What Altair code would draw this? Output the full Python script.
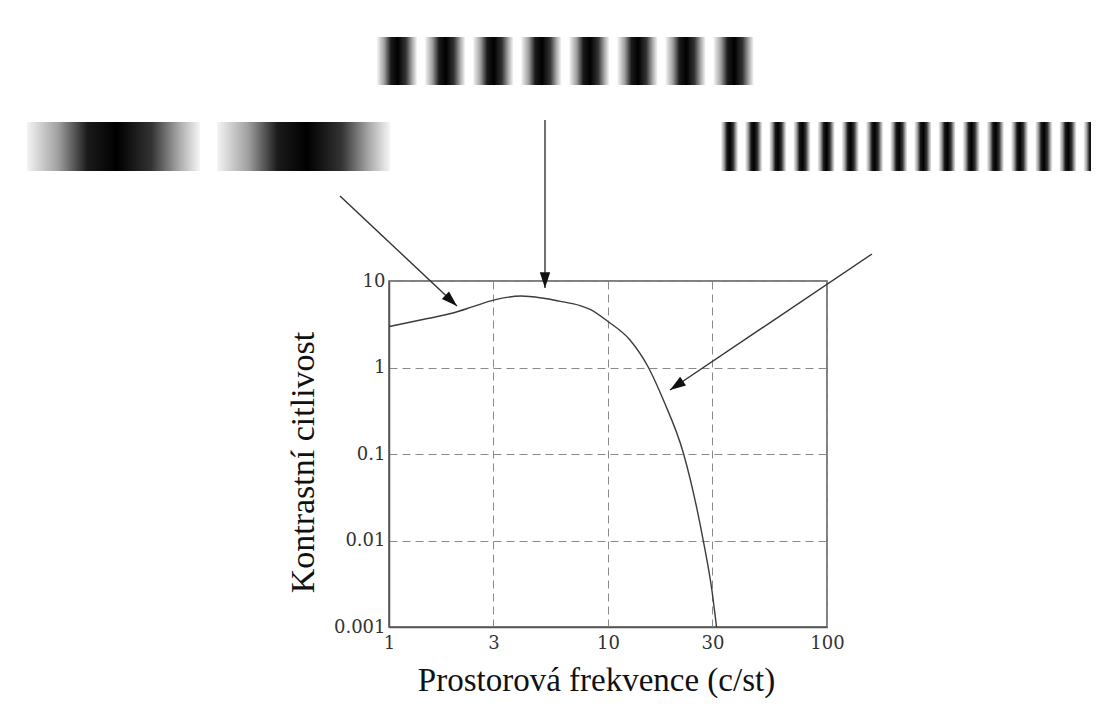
import altair as alt
import pandas as pd

# Contrast sensitivity curve
freq = [1, 1.5, 1.96, 2.42, 3.0, 4.0, 5.0, 6.0, 7.45, 8.28, 10, 12.6, 15.3, 17.9, 22.1, 27.2, 29.8, 31.3]
sens = [2.97, 3.68, 4.27, 5.05, 6.0, 6.7, 6.35, 5.85, 5.2, 4.7, 3.4, 2.08, 1.0, 0.42, 0.102, 0.0101, 0.00268, 0.001]

x_ticks = [1, 3, 10, 30, 100]
y_ticks = [0.001, 0.01, 0.1, 1, 10]

# Annotations in decades (log10 of frequency / log10 of sensitivity)
# gratings: first bar start, bar period, bar width, bar count, bottom, top
grat_start = [-1.653, -0.0548, 1.516]
grat_period = [0.868, 0.2196, 0.1104]
grat_width = [0.79, 0.1826, 0.0776]
grat_count = [2, 8, 16]
grat_bottom = [2.272, 3.266, 2.272]
grat_top = [2.838, 3.821, 2.838]

# arrows: start and tip, arrowhead rotation
arr_x0 = [-0.2237, 0.7123, 2.2055]
arr_y0 = [1.9827, 2.861, 1.312]
arr_x1 = [0.3105, 0.7123, 1.283]
arr_y1 = [0.711, 0.919, -0.26]
arr_angle = [133, 180, 236]

curve_df = pd.DataFrame({"f": freq, "s": sens})

bars = []
for g in range(3):
    for i in range(grat_count[g]):
        a = grat_start[g] + i * grat_period[g]
        bars.append({"x": a, "x2": a + grat_width[g], "y": grat_bottom[g], "y2": grat_top[g]})
bars_df = pd.DataFrame(bars)

arrows_df = pd.DataFrame({"x": arr_x0, "y": arr_y0, "x2": arr_x1, "y2": arr_y1, "angle": arr_angle})

X_DOM = [0, 2]
Y_DOM = [-3, 1]

grad = {
    "gradient": "linear", "x1": 0, "y1": 0, "x2": 1, "y2": 0,
    "stops": [
        {"offset": 0, "color": "#f4f4f4"},
        {"offset": 0.18, "color": "#a0a0a0"},
        {"offset": 0.35, "color": "#1a1a1a"},
        {"offset": 0.52, "color": "#000000"},
        {"offset": 0.72, "color": "#333333"},
        {"offset": 0.88, "color": "#aaaaaa"},
        {"offset": 1, "color": "#f6f6f6"},
    ],
}

curve = alt.Chart(curve_df).mark_line(
    color="#3c3c3c", strokeWidth=1.4, interpolate="monotone"
).encode(
    x=alt.X("f:Q",
            scale=alt.Scale(type="log", domain=[1, 100], nice=False),
            axis=alt.Axis(values=x_ticks, format="~g", title="Prostorová frekvence (c/st)",
                          labelFlush=False, labelOverlap=False, ticks=False, tickSize=0,
                          labelPadding=7, titleX=207, titleY=63, titleAlign="center",
                          titleBaseline="alphabetic", titleFontSize=33)),
    y=alt.Y("s:Q",
            scale=alt.Scale(type="log", domain=[0.001, 10], nice=False),
            axis=alt.Axis(values=y_ticks, format="~g", title="Kontrastní citlivost",
                          labelFlush=False, labelOverlap=False, ticks=False, tickSize=0,
                          labelPadding=4, titleX=-76, titleY=181, titleAngle=270,
                          titleAlign="center", titleBaseline="alphabetic", titleFontSize=34)),
)

gratings = alt.Chart(bars_df).mark_rect(color=grad, stroke=None).encode(
    x=alt.X("x:Q", scale=alt.Scale(domain=X_DOM, nice=False, zero=False), axis=None),
    x2="x2:Q",
    y=alt.Y("y:Q", scale=alt.Scale(domain=Y_DOM, nice=False, zero=False), axis=None),
    y2="y2:Q",
)

arrow_lines = alt.Chart(arrows_df).mark_rule(color="#333333", strokeWidth=1.4).encode(
    x=alt.X("x:Q", scale=alt.Scale(domain=X_DOM, nice=False, zero=False), axis=None),
    x2="x2:Q",
    y=alt.Y("y:Q", scale=alt.Scale(domain=Y_DOM, nice=False, zero=False), axis=None),
    y2="y2:Q",
)

arrow_heads = alt.Chart(arrows_df).mark_point(
    shape="M0,0L-0.33,1L0.33,1Z", filled=True, color="#111111", opacity=1, size=1000
).encode(
    x=alt.X("x2:Q", scale=alt.Scale(domain=X_DOM, nice=False, zero=False), axis=None),
    y=alt.Y("y2:Q", scale=alt.Scale(domain=Y_DOM, nice=False, zero=False), axis=None),
    angle=alt.Angle("angle:Q", scale=None),
)

overlay = alt.layer(gratings, arrow_lines, arrow_heads)

chart = alt.layer(curve, overlay).resolve_scale(
    x="independent", y="independent"
).properties(
    width=438, height=346,
    autosize=alt.AutoSizeParams(type="none"),
    padding={"left": 381, "top": 273, "right": 264, "bottom": 71},
    background="white",
).configure_view(
    stroke="#555555", strokeWidth=1.5
).configure_axis(
    grid=True, gridDash=[8, 5], gridColor="#8a8a8a", gridWidth=1,
    domainColor="#555555", domainWidth=1.5,
    labelFont="DejaVu Serif", labelFontSize=18, labelColor="#333333",
    titleFont="Liberation Serif", titleFontWeight="normal", titleColor="#111111",
)

chart.save("out.html", embed_options={"renderer": "svg", "actions": False})
